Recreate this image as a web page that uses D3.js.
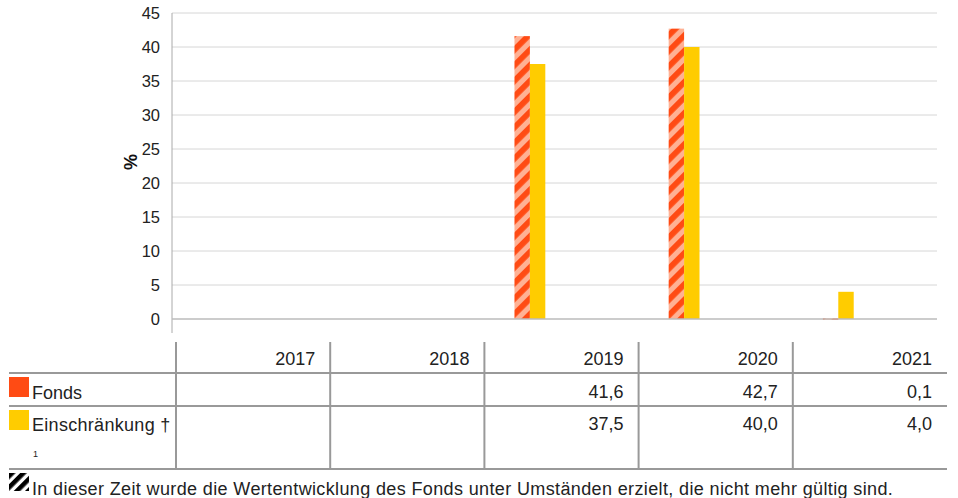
<!DOCTYPE html>
<html><head><meta charset="utf-8">
<script src="https://cdn.jsdelivr.net/npm/d3@7"></script>
<style>
html,body{margin:0;padding:0;background:#fff;}
svg{display:block;font-family:"Liberation Sans",Arial,sans-serif;}
</style></head>
<body>
<svg id="chart" width="958" height="498"></svg>
<script>
const years = ["2017","2018","2019","2020","2021"];
const fonds = [null, null, 41.6, 42.7, 0.1];
const einschraenkung = [null, null, 37.5, 40.0, 4.0];
const fondsLabels = ["", "", "41,6", "42,7", "0,1"];
const einschLabels = ["", "", "37,5", "40,0", "4,0"];
const yTicks = [0,5,10,15,20,25,30,35,40,45];
const seriesNames = ["Fonds", "Einschränkung †"];
const footnote = "In dieser Zeit wurde die Wertentwicklung des Fonds unter Umständen erzielt, die nicht mehr gültig sind.";

const svg = d3.select("#chart");
const plotLeft = 172, plotRight = 937, plotTop = 13, plotBottom = 319;
const tableLeft = 176, tableRight = 947;
const orange = "#FF4B14", salmon = "#FFB194", yellow = "#FFCC00";
const textCol = "#222";

const defs = svg.append("defs");
const hp = defs.append("pattern").attr("id","hatch").attr("patternUnits","userSpaceOnUse")
  .attr("width",11).attr("height",11).attr("patternTransform","rotate(45)");
hp.append("rect").attr("width",11).attr("height",11).attr("fill",salmon);
hp.append("rect").attr("width",5.8).attr("height",11).attr("fill",orange);
const bp = defs.append("pattern").attr("id","hatchBlack").attr("patternUnits","userSpaceOnUse")
  .attr("width",8).attr("height",8).attr("patternTransform","translate(9,473) rotate(45)");
bp.append("rect").attr("width",8).attr("height",8).attr("fill","#fff");
bp.append("rect").attr("width",4.6).attr("height",8).attr("fill","#000");

const y = d3.scaleLinear().domain([0,45]).range([plotBottom, plotTop]);
const x = d3.scaleBand().domain(years).range([tableLeft, tableRight]);
const bw = x.bandwidth();

// gridlines
svg.append("g").selectAll("line").data(yTicks.filter(d=>d>0)).join("line")
  .attr("x1",plotLeft).attr("x2",plotRight)
  .attr("y1",d=>y(d)).attr("y2",d=>y(d))
  .attr("stroke","#d6d6d6").attr("stroke-width",1);

// y axis
const yAxis = svg.append("g").attr("transform",`translate(${plotLeft},0)`)
  .call(d3.axisLeft(y).tickValues(yTicks).tickSize(0).tickPadding(12));
yAxis.select(".domain").remove();
yAxis.selectAll("text").attr("font-size",16.5).attr("fill",textCol).attr("font-family","Liberation Sans");
svg.append("line").attr("x1",plotLeft).attr("x2",plotLeft).attr("y1",plotTop).attr("y2",333)
  .attr("stroke","#aaa").attr("stroke-width",1);

// axis title
svg.append("text").attr("transform","translate(137,162) rotate(-90)")
  .attr("text-anchor","middle").attr("font-size",18).attr("font-weight","bold").attr("fill","#111").text("%");

// bars
const sub = d3.scaleBand().domain(["Fonds","Einschränkung"]).range([bw*0.195, bw*0.395]);
svg.append("g").selectAll("rect").data(years.map((yr,i)=>({yr,v:fonds[i]})).filter(d=>d.v!=null)).join("rect")
  .attr("x",d=>x(d.yr)+sub("Fonds")).attr("width",sub.bandwidth())
  .attr("y",d=>y(d.v)).attr("height",d=>Math.max(1.5,y(0)-y(d.v)))
  .attr("fill","url(#hatch)");
svg.append("g").selectAll("rect").data(years.map((yr,i)=>({yr,v:einschraenkung[i]})).filter(d=>d.v!=null)).join("rect")
  .attr("x",d=>x(d.yr)+sub("Einschränkung")).attr("width",sub.bandwidth())
  .attr("y",d=>y(d.v)).attr("height",d=>y(0)-y(d.v))
  .attr("fill",yellow);

// zero line
svg.append("line").attr("x1",plotLeft).attr("x2",plotRight).attr("y1",y(0)).attr("y2",y(0))
  .attr("stroke","#bbb").attr("stroke-width",1.5);

// table
const grid = "#999";
const t = svg.append("g");
[373,406,469].forEach(yy=>{
  t.append("line").attr("x1",9).attr("x2",tableRight).attr("y1",yy).attr("y2",yy)
   .attr("stroke",grid).attr("stroke-width",2);
});
years.forEach(yr=>{
  t.append("line").attr("x1",x(yr)).attr("x2",x(yr)).attr("y1",342).attr("y2",469)
   .attr("stroke",grid).attr("stroke-width",2);
});
const fs = 18;
t.selectAll("text.hdr").data(years).join("text").attr("class","hdr")
  .attr("x",d=>x(d)+bw-15).attr("y",365).attr("text-anchor","end")
  .attr("font-size",fs).attr("fill",textCol).text(d=>d);
t.selectAll("text.r1").data(years.map((yr,i)=>({yr,l:fondsLabels[i]}))).join("text").attr("class","r1")
  .attr("x",d=>x(d.yr)+bw-15).attr("y",398).attr("text-anchor","end")
  .attr("font-size",fs).attr("fill",textCol).text(d=>d.l);
t.selectAll("text.r2").data(years.map((yr,i)=>({yr,l:einschLabels[i]}))).join("text").attr("class","r2")
  .attr("x",d=>x(d.yr)+bw-15).attr("y",430).attr("text-anchor","end")
  .attr("font-size",fs).attr("fill",textCol).text(d=>d.l);

// legend
t.append("rect").attr("x",9).attr("y",377).attr("width",20).attr("height",20).attr("fill",orange);
t.append("text").attr("x",32).attr("y",399).attr("font-size",fs).attr("fill",textCol).text(seriesNames[0]);
t.append("rect").attr("x",9).attr("y",410).attr("width",20).attr("height",20).attr("fill",yellow);
t.append("text").attr("x",32).attr("y",431).attr("font-size",fs).attr("fill",textCol)
  .attr("letter-spacing",0.3).text(seriesNames[1]);
t.append("text").attr("x",33).attr("y",457).attr("font-size",9).attr("fill",textCol).text("1");

// footnote
svg.append("rect").attr("x",9).attr("y",473).attr("width",20).attr("height",18).attr("fill","url(#hatchBlack)");
svg.append("text").attr("x",32).attr("y",495).attr("font-size",fs).attr("fill",textCol)
  .attr("letter-spacing",0.37).text(footnote);
</script>
</body></html>
